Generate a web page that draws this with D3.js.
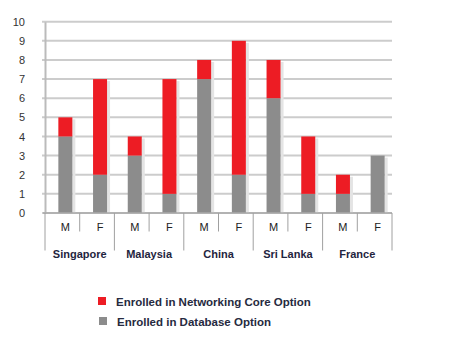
<!DOCTYPE html>
<html>
<head>
<meta charset="utf-8">
<script src="https://cdn.jsdelivr.net/npm/d3@7"></script>
<style>
  body { margin: 0; background: #fff; }
  svg { display: block; font-family: "Liberation Sans", Arial, sans-serif; }
</style>
</head>
<body>
<svg id="chart" width="452" height="348"></svg>
<script>
// Enrolment by country and gender
const countries = ["Singapore", "Malaysia", "China", "Sri Lanka", "France"];
const genders = ["M", "F"];
// values listed per country as [M, F]
const databaseOption = [[4, 2], [3, 1], [7, 2], [6, 1], [1, 3]];
const networkingOption = [[1, 5], [1, 6], [1, 7], [2, 3], [1, 0]];
const yTicks = [0, 1, 2, 3, 4, 5, 6, 7, 8, 9, 10];
const seriesNames = ["Enrolled in Networking Core Option", "Enrolled in Database Option"];
const seriesColors = ["#ed1c24", "#8c8c8c"];

const svg = d3.select("#chart");
const plotLeft = 45, plotRight = 392, plotTop = 21.7, plotBottom = 213;

const rows = [];
countries.forEach((c, i) => genders.forEach((g, j) => {
  rows.push({ key: c + "|" + g, country: c, gender: g,
              db: databaseOption[i][j], net: networkingOption[i][j] });
}));

const x = d3.scaleBand().domain(rows.map(r => r.key)).range([plotLeft, plotRight]).padding(0);
const xc = d3.scaleBand().domain(countries).range([plotLeft, plotRight]).padding(0);
const y = d3.scaleLinear().domain([0, 10]).range([plotBottom, plotTop]);

// horizontal gridlines
svg.append("g").selectAll("line").data(yTicks).join("line")
  .attr("x1", plotLeft - 3).attr("x2", plotRight)
  .attr("y1", d => y(d)).attr("y2", d => y(d))
  .attr("stroke", "#cccccc").attr("stroke-width", 2);

// y axis
const yAxis = svg.append("g").attr("transform", `translate(${plotLeft},0)`)
  .call(d3.axisLeft(y).tickValues(yTicks).tickSize(0).tickPadding(20));
yAxis.select(".domain").attr("stroke", "#bbbbbb").attr("stroke-width", 2);
yAxis.selectAll("text").attr("fill", "#333").attr("font-size", 11)
  .attr("font-family", "Liberation Sans, Arial, sans-serif");

// stacked bars
const barW = 14, offset = 3;
const stack = d3.stack().keys(["db", "net"])(rows);
const colorFor = { db: seriesColors[1], net: seriesColors[0] };

const bars = svg.append("g");
// soft shadow on the right side of each bar
bars.selectAll("rect.shadow").data(rows.filter(r => r.db + r.net > 0)).join("rect")
  .attr("class", "shadow")
  .attr("x", d => x(d.key) + x.bandwidth() / 2 - barW / 2 + offset + barW)
  .attr("width", 3)
  .attr("y", d => y(d.db + d.net) + 2)
  .attr("height", d => plotBottom - y(d.db + d.net) - 2)
  .attr("fill", "#e4e4e4");

stack.forEach(layer => {
  bars.append("g").selectAll("rect").data(layer.filter(d => d[1] > d[0])).join("rect")
    .attr("x", d => x(d.data.key) + x.bandwidth() / 2 - barW / 2 + offset)
    .attr("width", barW)
    .attr("y", d => y(d[1]))
    .attr("height", d => y(d[0]) - y(d[1]))
    .attr("fill", colorFor[layer.key]);
});

// category axis: gender row and country row
const axisG = svg.append("g");
axisG.append("line").attr("x1", plotLeft - 2).attr("x2", plotRight)
  .attr("y1", plotBottom).attr("y2", plotBottom).attr("stroke", "#aaaaaa").attr("stroke-width", 1.5);

rows.forEach((r, i) => {
  const xs = x(r.key);
  if (i > 0) {
    const countryEdge = r.gender === "M";
    axisG.append("line").attr("x1", xs).attr("x2", xs)
      .attr("y1", plotBottom).attr("y2", countryEdge ? 250.5 : 231.5)
      .attr("stroke", "#a0a0a0").attr("stroke-width", 1);
  }
  axisG.append("text").attr("x", xs + x.bandwidth() / 2 + offset).attr("y", 230.5)
    .attr("text-anchor", "middle").attr("font-size", 11).attr("fill", "#222")
    .text(r.gender);
});
[plotLeft, plotRight].forEach(xe => axisG.append("line").attr("x1", xe).attr("x2", xe)
  .attr("y1", plotBottom).attr("y2", 250.5).attr("stroke", "#a0a0a0").attr("stroke-width", 1));

axisG.selectAll("text.country").data(countries).join("text")
  .attr("class", "country")
  .attr("x", d => xc(d) + xc.bandwidth() / 2)
  .attr("y", 258)
  .attr("text-anchor", "middle").attr("font-size", 11).attr("font-weight", "bold")
  .attr("fill", "#1f2540")
  .text(d => d);

// legend
const legend = svg.append("g");
seriesNames.forEach((name, i) => {
  const ly = 297 + i * 20;
  legend.append("rect").attr("x", 98 + i).attr("y", ly).attr("width", 8).attr("height", 8)
    .attr("fill", seriesColors[i]);
  legend.append("text").attr("x", 116 + i).attr("y", ly + 8.5)
    .attr("font-size", 11.5).attr("font-weight", "bold").attr("fill", "#262a40")
    .text(name);
});
</script>
</body>
</html>
